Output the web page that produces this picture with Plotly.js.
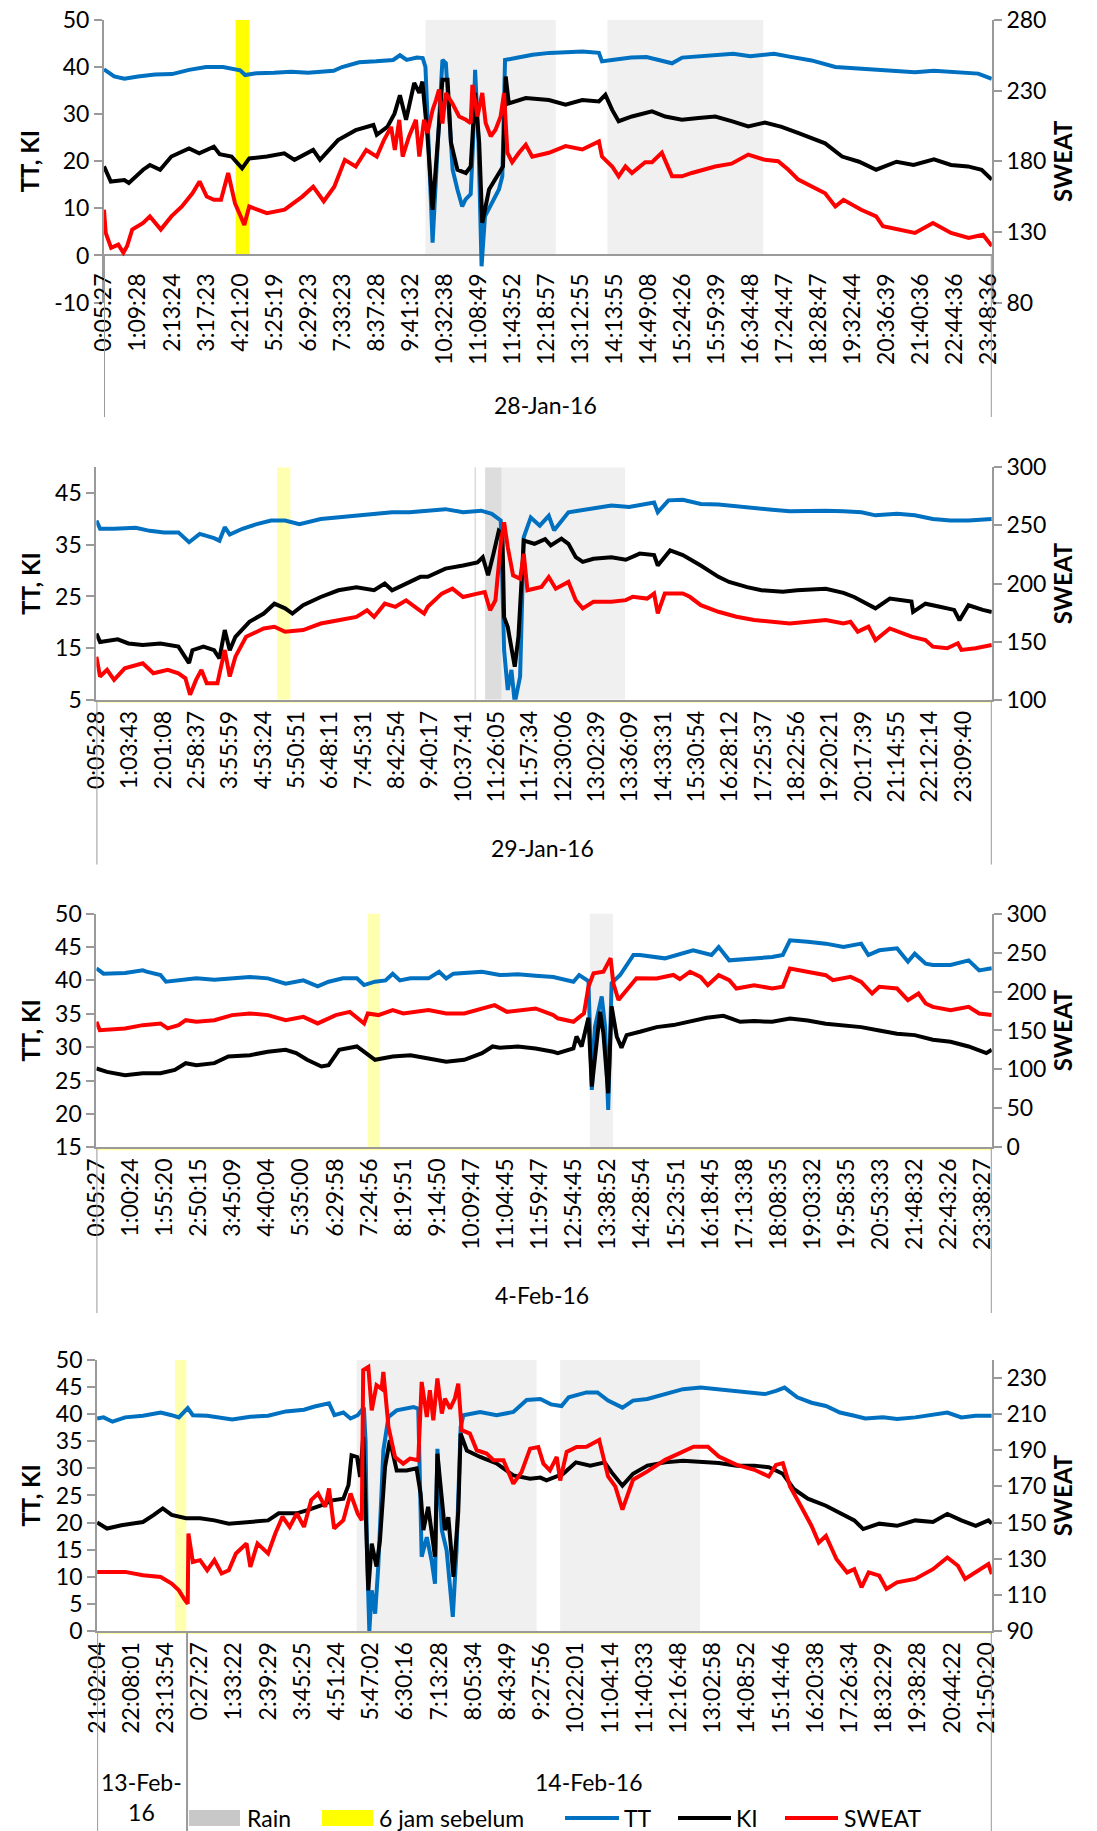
<!DOCTYPE html>
<html><head><meta charset="utf-8">
<script src="https://cdn.plot.ly/plotly-3.0.1.min.js"></script>
<style>body{margin:0;background:#fff}#chart{width:1097px;height:1831px}</style>
</head><body><div id="chart"></div>
<script>
// ---------- DATA (x = position in tick-label units, value) ----------
const labels1 = ['0:05:27','1:09:28','2:13:24','3:17:23','4:21:20','5:25:19','6:29:23','7:33:23','8:37:28','9:41:32','10:32:38','11:08:49','11:43:52','12:18:57','13:12:55','14:13:55','14:49:08','15:24:26','15:59:39','16:34:48','17:24:47','18:28:47','19:32:44','20:36:39','21:40:36','22:44:36','23:48:36'];
const labels2 = ['0:05:28','1:03:43','2:01:08','2:58:37','3:55:59','4:53:24','5:50:51','6:48:11','7:45:31','8:42:54','9:40:17','10:37:41','11:26:05','11:57:34','12:30:06','13:02:39','13:36:09','14:33:31','15:30:54','16:28:12','17:25:37','18:22:56','19:20:21','20:17:39','21:14:55','22:12:14','23:09:40'];
const labels3 = ['0:05:27','1:00:24','1:55:20','2:50:15','3:45:09','4:40:04','5:35:00','6:29:58','7:24:56','8:19:51','9:14:50','10:09:47','11:04:45','11:59:47','12:54:45','13:38:52','14:28:54','15:23:51','16:18:45','17:13:38','18:08:35','19:03:32','19:58:35','20:53:33','21:48:32','22:43:26','23:38:27'];
const labels4 = ['21:02:04','22:08:01','23:13:54','0:27:27','1:33:22','2:39:29','3:45:25','4:51:24','5:47:02','6:30:16','7:13:28','8:05:34','8:43:49','9:27:56','10:22:01','11:04:14','11:40:33','12:16:48','13:02:58','14:08:52','15:14:46','16:20:38','17:26:34','18:32:29','19:38:28','20:44:22','21:50:20'];
const dates1 = ['28-Jan-16'];
const dates2 = ['29-Jan-16'];
const dates3 = ['4-Feb-16'];
const dates4 = ['13-Feb-<br>16','14-Feb-16'];

const tt1 = [[0,39.5],[0.3,38.0],[0.6,37.5],[1.0,38.0],[1.5,38.4],[2.0,38.5],[2.5,39.4],[3.0,40.0],[3.5,40.0],[4.0,39.3],[4.15,38.3],[4.5,38.7],[5.0,38.8],[5.5,39.0],[6.0,38.8],[6.5,39.0],[6.75,39.2],[7.0,40.0],[7.5,41.0],[8.0,41.2],[8.5,41.5],[8.7,42.5],[8.9,41.5],[9.2,42.0],[9.37,41.9],[9.45,40.0],[9.66,2.7],[9.8,22],[9.95,41.5],[10.05,40.8],[10.15,28.8],[10.25,18.2],[10.39,14],[10.53,10.4],[10.63,11.9],[10.78,13],[10.85,24],[10.91,39.4],[11.01,24],[11.1,-2.3],[11.2,8.3],[11.42,11.2],[11.61,14],[11.71,16.8],[11.79,41.5],[12.1,41.9],[12.6,42.6],[13.1,43.0],[14.06,43.3],[14.55,43.0],[14.64,41.2],[14.93,41.5],[15.5,42.0],[15.95,42.1],[16.3,41.4],[16.7,40.8],[17.0,42.0],[17.5,42.2],[18.0,42.5],[18.5,42.8],[19.0,42.3],[19.7,42.8],[20.15,42.2],[20.8,41.4],[21.5,40.0],[22.26,39.6],[22.9,39.3],[23.84,38.9],[24.4,39.2],[25.0,38.9],[25.7,38.6],[26.1,37.5]];
const ki1 = [[0,18.9],[0.2,15.7],[0.6,16.0],[0.73,15.4],[1.15,18.2],[1.35,19.2],[1.65,18.2],[1.98,21],[2.5,22.7],[2.8,21.7],[3.23,23.1],[3.4,21.5],[3.75,21],[4.06,18.5],[4.27,20.6],[4.79,21],[5.3,21.7],[5.6,20.3],[6.15,22.4],[6.35,20.3],[6.88,24.5],[7.4,26.6],[7.92,27.7],[8.02,25.6],[8.33,27.3],[8.54,30.1],[8.7,34],[8.88,28.8],[9.12,36.6],[9.27,34.5],[9.36,36.9],[9.51,25.3],[9.66,9.7],[9.8,23.9],[9.95,37.3],[10.1,37.3],[10.2,24],[10.39,18.2],[10.64,17.5],[10.78,18.9],[10.91,34.5],[11.03,24],[11.12,6.9],[11.32,14],[11.61,17.5],[11.73,18.9],[11.81,38],[11.9,32.3],[12.4,33.4],[13.08,33],[13.57,32],[14.06,33],[14.55,32.7],[14.74,34.1],[14.94,30.9],[15.13,28.5],[15.52,29.5],[16.11,30.6],[16.5,29.5],[16.99,28.8],[17.48,29.2],[17.97,29.5],[18.45,28.5],[18.94,27.4],[19.43,28.2],[19.92,27.3],[20.4,26],[20.7,25.2],[21.2,23.8],[21.7,21],[22.2,19.9],[22.7,18.2],[23.3,19.9],[23.8,19.2],[24.4,20.4],[24.9,19.2],[25.4,18.9],[25.8,18.2],[26.1,16.1]];
const sweat1 = [[0,145.7],[0.05,129.3],[0.21,118.7],[0.42,121],[0.57,115.3],[0.68,120],[0.83,131.7],[1.15,136.3],[1.35,141],[1.67,131.7],[1.98,141],[2.29,148],[2.6,157.3],[2.81,165.7],[3.02,155],[3.23,152.7],[3.44,152.7],[3.65,171.7],[3.85,150.3],[4.125,135],[4.27,148],[4.79,143.3],[5.31,145.7],[5.83,155],[6.15,162],[6.46,151.7],[6.77,162],[7.08,181],[7.4,176.3],[7.71,188],[8.02,183.3],[8.23,195],[8.44,204.3],[8.55,188],[8.68,209.3],[8.78,183.3],[8.97,197.7],[9.17,209.3],[9.27,183.3],[9.41,209.3],[9.51,200],[9.66,216.3],[9.76,223.3],[9.85,230.7],[9.95,206.7],[10.05,228.3],[10.24,221],[10.44,211.7],[10.64,209.3],[10.78,207],[10.83,234],[10.98,211.7],[11.12,228.3],[11.22,207],[11.37,197.7],[11.51,202.3],[11.66,211.7],[11.76,228.3],[11.86,186],[12.0,179.3],[12.2,186],[12.4,191.7],[12.59,183.3],[13.08,186],[13.57,190.7],[14.06,188.3],[14.55,194],[14.64,183.3],[14.94,176.3],[15.13,169.3],[15.33,176.3],[15.52,171.7],[15.91,179.3],[16.11,179.3],[16.4,186],[16.7,169.3],[16.99,169.3],[17.28,171.7],[17.97,176.3],[18.45,178.3],[18.94,184.7],[19.43,181],[19.82,180],[20.12,174],[20.41,167],[20.8,162],[21.2,157.3],[21.5,148],[21.74,152.7],[22.26,145.7],[22.7,141],[22.9,134],[23.32,131.7],[23.84,129.3],[24.37,136.3],[24.9,129.3],[25.42,125.7],[25.84,128],[26.1,120]];

const tt2 = [[0,39.7],[0.11,38.1],[0.53,38.1],[1.18,38.3],[1.6,37.7],[2.03,37.4],[2.46,37.4],[2.78,35.5],[3.1,37.1],[3.53,36.3],[3.69,35.8],[3.85,38.4],[4.0,37.0],[4.38,38.1],[4.81,39],[5.24,39.7],[5.66,39.7],[6.09,39],[6.73,40],[7.26,40.3],[7.8,40.6],[8.33,41],[8.87,41.3],[9.4,41.3],[9.94,41.6],[10.47,41.9],[11.0,41.3],[11.54,41.6],[11.86,41],[12.13,39.7],[12.23,14.6],[12.34,6.9],[12.45,10.8],[12.55,4.4],[12.71,9.5],[12.82,36.5],[13.03,40.3],[13.3,38.7],[13.57,40.6],[13.73,37.8],[14.16,41.3],[14.91,42],[15.45,42.6],[15.98,42.3],[16.41,42.9],[16.73,43.2],[16.84,41.3],[17.16,43.6],[17.59,43.7],[18.13,42.9],[18.66,42.8],[19.2,42.4],[19.73,42.1],[20.27,41.8],[20.8,41.5],[21.34,41.6],[21.88,41.6],[22.41,41.5],[22.95,41.3],[23.37,40.7],[24.02,41],[24.55,40.7],[25.09,40],[25.62,39.7],[26.16,39.7],[26.86,40]];
const ki2 = [[0,17.8],[0.11,16.2],[0.64,16.7],[0.96,15.9],[1.39,15.6],[1.92,15.9],[2.46,15.3],[2.78,12.1],[2.88,14.6],[3.21,15.3],[3.53,14.6],[3.69,13],[3.85,18.5],[4.0,14.6],[4.17,17.2],[4.59,20.1],[5.02,21.7],[5.34,23.6],[5.66,22.7],[5.88,21.7],[6.2,23.3],[6.73,24.9],[7.26,26.2],[7.8,26.8],[8.33,26.2],[8.65,27.5],[8.87,26.2],[9.4,27.8],[9.72,28.8],[9.94,28.8],[10.47,30.4],[11.0,31],[11.43,31.6],[11.59,32.6],[11.75,29.1],[11.91,33.2],[12.07,37.7],[12.18,37.1],[12.23,21],[12.34,19.1],[12.45,14.6],[12.55,11.4],[12.66,17.2],[12.76,27.5],[12.82,35.8],[13.14,35.2],[13.46,36.1],[13.63,34.9],[13.95,36.2],[14.16,35.2],[14.38,32.6],[14.59,31.7],[14.91,32.3],[15.45,32.6],[15.88,32.1],[16.3,33.3],[16.73,33],[16.84,31],[17.21,33.9],[17.59,33],[18.13,31],[18.66,28.8],[18.98,27.8],[19.52,26.8],[19.95,26.2],[20.59,25.9],[21.02,26.2],[21.88,26.5],[22.41,25.7],[22.73,24.9],[23.37,22.7],[23.8,24.6],[24.45,24],[24.5,22],[24.87,23.6],[25.3,23],[25.73,22.4],[25.89,20.4],[26.16,23.3],[26.59,22.4],[26.86,22]];
const sweat2 = [[0,137],[0.11,120],[0.32,125.7],[0.53,117.1],[0.85,127.1],[1.39,131.4],[1.71,122.8],[2.14,125.7],[2.46,122.8],[2.67,118.5],[2.81,104.3],[2.99,117.1],[3.15,125.7],[3.31,114.3],[3.63,114.3],[3.85,142.8],[4.0,120],[4.17,137.1],[4.49,154.2],[4.81,158.5],[5.02,161.3],[5.34,162.8],[5.66,158.5],[6.2,160],[6.73,165.6],[7.26,168.5],[7.8,171.3],[8.12,177],[8.33,171.3],[8.65,182.7],[8.97,180],[9.29,185.6],[9.83,174.2],[9.94,180],[10.36,191.3],[10.68,195.6],[11.0,188.4],[11.43,191.3],[11.65,192.7],[11.81,177],[11.97,185.6],[12.13,234],[12.23,252.6],[12.34,231.2],[12.5,207],[12.71,204.1],[12.82,225.5],[12.93,194.2],[13.35,197],[13.57,205.6],[13.78,195.6],[14.16,201.4],[14.38,185.7],[14.59,178.6],[14.91,184.3],[15.45,184.3],[15.88,185.7],[16.09,188.6],[16.52,187.1],[16.73,191.4],[16.84,174.3],[17.05,191.4],[17.59,191.4],[17.8,188.6],[18.13,181.4],[18.66,175.7],[19.2,171.4],[19.73,168.6],[20.27,167.1],[20.8,165.7],[21.34,167.1],[21.88,168.6],[22.41,165.7],[22.62,167.1],[22.84,158.6],[23.16,162.9],[23.37,151.4],[23.8,161.4],[24.45,154.3],[24.87,151.4],[25.09,145.7],[25.52,144.3],[25.84,148.6],[25.95,142.9],[26.37,144.3],[26.86,147.1]];

const tt3 = [[0,41.8],[0.21,41],[0.84,41.1],[1.36,41.5],[1.47,41.3],[1.88,40.8],[2.04,39.8],[2.41,40],[2.93,40.3],[3.46,40.1],[3.98,40.3],[4.5,40.5],[5.03,40.3],[5.55,39.5],[6.07,40],[6.49,39.1],[6.81,39.8],[7.23,40.3],[7.64,40.3],[7.85,39.3],[8.17,39.8],[8.48,40],[8.69,41],[8.9,40],[9.21,40.3],[9.74,40.3],[10.05,41.3],[10.26,40.3],[10.47,41],[10.79,41.1],[11.31,41.3],[11.83,40.8],[12.36,40.9],[12.88,40.7],[13.4,40.5],[13.99,39.8],[14.16,40.8],[14.43,39.9],[14.53,23.6],[14.62,33],[14.82,37.6],[14.92,33],[15.01,20.6],[15.11,39.6],[15.36,40.8],[15.75,43.8],[15.94,43.8],[16.67,43.3],[17.2,44],[17.5,44.5],[18.04,43.8],[18.25,45],[18.56,43],[19.29,43.3],[19.82,43.5],[20.13,43.8],[20.34,46],[20.86,45.8],[21.39,45.5],[21.91,45],[22.43,45.5],[22.64,43.8],[22.96,44.5],[23.48,44.8],[23.8,42.8],[24.0,44],[24.32,42.5],[24.53,42.3],[25.05,42.3],[25.58,43],[25.89,41.5],[26.26,41.8]];
const ki3 = [[0,26.8],[0.31,26.3],[0.84,25.8],[1.36,26.1],[1.88,26.1],[2.3,26.6],[2.62,27.6],[2.93,27.3],[3.46,27.6],[3.87,28.6],[4.5,28.8],[5.03,29.3],[5.55,29.6],[5.86,29.1],[6.18,28.1],[6.6,27.1],[6.81,27.3],[7.12,29.6],[7.64,30.1],[7.96,28.8],[8.17,28.1],[8.69,28.6],[9.21,28.8],[9.74,28.3],[10.26,27.8],[10.79,28.1],[11.31,29.1],[11.62,30.1],[11.83,29.9],[12.36,30.1],[12.88,29.8],[13.4,29.3],[13.53,29.1],[13.99,29.8],[14.08,31.6],[14.23,30.1],[14.43,34.4],[14.53,24.1],[14.67,30.3],[14.77,35.3],[14.87,32],[15.01,23.1],[15.11,36.1],[15.26,31.6],[15.4,29.9],[15.55,31.8],[15.94,32.3],[16.43,33],[16.92,33.3],[17.41,33.9],[17.9,34.4],[18.39,34.7],[18.88,33.8],[19.29,33.9],[19.82,33.8],[20.34,34.3],[20.86,34],[21.39,33.5],[21.91,33.3],[22.43,33],[22.96,32.5],[23.48,32],[24.0,31.8],[24.53,31.1],[25.05,30.8],[25.58,30.1],[26.1,29.1],[26.26,29.6]];
const sweat3 = [[0,161.1],[0.1,150.4],[0.84,152.6],[1.36,156.8],[1.88,159],[2.09,152.6],[2.41,156.8],[2.62,163.2],[2.93,161.1],[3.46,163.2],[3.98,169.7],[4.5,171.8],[5.03,169.7],[5.55,163.2],[6.07,167.5],[6.49,159],[7.02,169.7],[7.43,173.9],[7.85,159],[7.96,171.8],[8.27,169.7],[8.69,176.1],[9.0,171.8],[9.74,176.1],[10.26,171.8],[10.79,171.8],[11.68,182.5],[12.04,173.9],[12.88,178.2],[13.4,169.7],[13.53,165.6],[13.99,161.2],[14.3,172],[14.43,206.2],[14.58,223.4],[14.87,225.4],[15.08,242.6],[15.16,210.5],[15.31,189.1],[15.55,201.9],[15.84,216.9],[16.43,216.7],[16.92,221.2],[17.11,216],[17.41,225.4],[17.72,218.8],[17.93,208.1],[18.25,220.9],[18.56,214.5],[18.77,203.8],[19.29,208.1],[19.82,203.8],[20.13,206],[20.34,229.5],[20.86,225.2],[21.39,220.9],[21.6,214.5],[22.12,218.8],[22.43,212.4],[22.75,197.4],[22.96,206],[23.48,203.8],[23.8,188.9],[24.11,197.4],[24.32,184.6],[24.53,180.3],[25.05,176.1],[25.58,180.3],[25.89,171.8],[26.26,169.7]];

const tt4 = [[0,39.2],[0.19,39.4],[0.45,38.6],[0.82,39.4],[1.34,39.7],[1.86,40.3],[2.18,39.8],[2.39,39.4],[2.65,41.1],[2.8,39.8],[3.22,39.7],[3.64,39.2],[3.95,39],[4.48,39.5],[5.0,39.7],[5.52,40.5],[6.05,40.8],[6.36,41.4],[6.78,42],[6.94,39.8],[7.2,40.3],[7.41,39.2],[7.62,39.8],[7.8,41.2],[7.85,35],[7.89,14.9],[7.96,0],[8.03,7.5],[8.13,3.2],[8.22,11.8],[8.37,33.3],[8.52,39.5],[8.76,40.7],[9.25,41.3],[9.39,41],[9.49,13.7],[9.64,17.3],[9.78,13],[9.88,8.7],[9.95,33.6],[10.08,18.6],[10.22,14.9],[10.4,2.6],[10.51,14.9],[10.63,37.6],[10.71,39.8],[11.2,40.4],[11.68,39.8],[12.17,40.4],[12.56,42.6],[12.96,42.8],[13.27,41.8],[13.58,41.5],[13.79,43.1],[14.31,44],[14.63,44],[14.94,42.5],[15.36,41.2],[15.67,42.5],[16.09,42.8],[16.61,43.7],[17.13,44.6],[17.65,44.9],[18.18,44.6],[18.7,44.3],[19.22,44],[19.53,43.7],[19.85,44.3],[20.1,44.9],[20.47,43.1],[20.89,42.1],[21.31,41.5],[21.72,40.3],[22.14,39.7],[22.46,39.2],[22.98,39.4],[23.39,39.1],[23.92,39.4],[24.44,40],[24.86,40.3],[25.27,39.4],[25.69,39.7],[26.16,39.7]];
const ki4 = [[0,20],[0.29,18.9],[0.71,19.5],[1.34,20.1],[1.66,21.4],[1.92,22.6],[2.18,21.4],[2.6,20.8],[3.01,20.8],[3.43,20.4],[3.85,19.8],[4.48,20.1],[5.0,20.4],[5.31,21.7],[5.84,21.7],[6.15,22.3],[6.57,23.2],[6.88,24.1],[7.2,24.4],[7.35,26.9],[7.44,32.4],[7.6,32.1],[7.69,28.4],[7.78,35.8],[7.93,7.5],[8.03,16.1],[8.17,11.9],[8.27,16.7],[8.42,30.3],[8.56,35.2],[8.76,29.6],[9.05,29.6],[9.34,30],[9.46,25.3],[9.54,18.6],[9.68,22.9],[9.88,13.7],[9.95,32.7],[10.08,24.1],[10.17,18.6],[10.27,21],[10.42,10],[10.56,22],[10.63,36.4],[10.81,33.3],[11.2,32.1],[11.68,30.9],[12.17,28.7],[12.66,28.1],[12.96,28.3],[13.14,27.8],[13.63,29],[14.0,31.1],[14.42,30.5],[14.84,31.1],[15.04,29.3],[15.36,26.8],[15.67,29],[16.09,30.5],[16.61,31.1],[17.13,31.4],[17.65,31.2],[18.18,31],[18.7,30.5],[19.22,30.5],[19.64,30.2],[20.05,29],[20.37,26.2],[20.78,24.4],[21.31,23.1],[21.83,21.3],[22.14,20.4],[22.4,18.8],[22.87,19.8],[23.39,19.4],[23.92,20.4],[24.44,20.1],[24.86,21.6],[25.27,20.4],[25.69,19.4],[26.06,20.4],[26.16,19.8]];
const sweat4 = [[0,122.7],[0.82,122.7],[1.34,120.9],[1.86,119.9],[2.18,116.2],[2.39,112.5],[2.54,107.9],[2.65,105.1],[2.67,143.9],[2.8,128.2],[3.01,129.2],[3.22,123.6],[3.43,129.2],[3.64,121.8],[3.85,123.6],[4.06,132.9],[4.37,138.4],[4.48,125.5],[4.69,138.4],[5.0,132.9],[5.21,143.9],[5.42,153.2],[5.63,147.6],[5.84,155],[6.05,147.6],[6.26,162.4],[6.46,166.1],[6.67,158.7],[6.78,168.9],[6.93,146.7],[7.2,151.3],[7.41,166.1],[7.62,155],[7.74,151.3],[7.78,234.3],[7.93,236.1],[8.03,212.1],[8.17,226],[8.32,224],[8.37,233.4],[8.52,202.9],[8.71,186.3],[8.95,182.6],[9.15,185.4],[9.39,184.5],[9.49,227.8],[9.64,208.4],[9.73,223.2],[9.83,206.6],[9.95,229.7],[10.08,210.3],[10.17,218.6],[10.32,213.1],[10.46,218.6],[10.56,226.9],[10.66,201.1],[10.9,199.2],[11.1,190],[11.39,188.2],[11.59,184.5],[11.88,184.5],[12.17,171.5],[12.41,177.9],[12.66,190.9],[12.9,191.8],[13.05,182.6],[13.24,178.9],[13.44,186.3],[13.54,173.3],[13.73,189.1],[14.02,191.8],[14.31,192],[14.68,195.7],[14.94,175.5],[15.15,170],[15.36,157.2],[15.67,173.7],[16.09,178.3],[16.61,184.7],[17.13,189.3],[17.44,192],[17.86,192],[18.18,186.5],[18.7,181.9],[19.22,179.2],[19.64,175.5],[19.85,181.9],[20.05,182.9],[20.26,170],[20.58,159],[20.89,148.1],[21.1,138.9],[21.31,142.6],[21.62,129.7],[21.93,122.4],[22.14,124.2],[22.35,114.2],[22.56,122.4],[22.87,120.6],[23.08,113.3],[23.39,116.9],[23.92,118.8],[24.44,124.2],[24.86,130.7],[25.17,126.1],[25.38,118.8],[25.69,122.4],[26.06,127],[26.16,121.5]];

// rain periods and "6 jam sebelum" periods (tick-label units)
const rain1 = [[9.45,13.28],[14.8,19.38]];
const rain2 = [[11.34,11.39],[11.66,12.16],[12.16,15.86]];
const rain3 = [[14.47,15.15]];
const rain4 = [[7.59,12.85],[13.54,17.63]];
const yellow1 = [[3.87,4.27]];
const yellow2 = [[5.42,5.82]];
const yellow3 = [[7.96,8.32]];
const yellow4 = [[2.28,2.61]];
const legendNames = ['Rain','6 jam sebelum','TT','KI','SWEAT'];

// ---------- STYLE / LAYOUT ----------
const W = 1097, H = 1831;
const FONT = 'Lato, "Open Sans", sans-serif';
const AX = '#9a9a9a';
const C_TT = '#0070C0', C_KI = '#000000', C_SW = '#FF0000';
const px = v => v / W, py = v => 1 - v / H;

const panels = [
  {labels: labels1, tt: tt1, ki: ki1, sw: sweat1, rain: rain1, yel: yellow1, yelColor: '#FFFF00', rainDark: [],
   left: 104, right: 991.8, top: 19.9, bottom: 302.6, axisPx: 255.9, xr: [0, 26.1],
   yr: [-10, 50], yt: [-10, 0, 10, 20, 30, 40, 50], base: 0, y2r: [80, 280], y2t: [80, 130, 180, 230, 280],
   sepBottom: 417, seps: [0, 26.1], dates: dates1, datePos: [[545.6, 405]], zeroAxis: true},
  {labels: labels2, tt: tt2, ki: ki2, sw: sweat2, rain: rain2, yel: yellow2, yelColor: '#FFFFB0', rainDark: [0, 1],
   left: 96.4, right: 991.8, top: 467.3, bottom: 699.8, axisPx: 699.8, xr: [0, 26.86],
   yr: [5, 50], yt: [5, 15, 25, 35, 45], base: 5, y2r: [100, 300], y2t: [100, 150, 200, 250, 300],
   sepBottom: 864.5, seps: [0, 26.86], dates: dates2, datePos: [[542, 848]]},
  {labels: labels3, tt: tt3, ki: ki3, sw: sweat3, rain: rain3, yel: yellow3, yelColor: '#FFFFB0', rainDark: [],
   left: 96.4, right: 991.8, top: 913.6, bottom: 1147.3, axisPx: 1147.3, xr: [0, 26.26],
   yr: [15, 50], yt: [15, 20, 25, 30, 35, 40, 45, 50], base: 15, y2r: [0, 300], y2t: [0, 50, 100, 150, 200, 250, 300],
   sepBottom: 1313, seps: [0, 26.26], dates: dates3, datePos: [[542, 1294.5]]},
  {labels: labels4, tt: tt4, ki: ki4, sw: sweat4, rain: rain4, yel: yellow4, yelColor: '#FFFFB0', rainDark: [],
   left: 97.1, right: 991.8, top: 1359.9, bottom: 1631, axisPx: 1631, xr: [0, 26.16],
   yr: [0, 50], yt: [0, 5, 10, 15, 20, 25, 30, 35, 40, 45, 50], base: 0, y2r: [90, 240], y2t: [90, 110, 130, 150, 170, 190, 210, 230],
   sepBottom: 1831, seps: [0, 2.63, 26.16], dates: dates4, datePos: [[141.4, 1797], [588.8, 1781.7]]}
];

const traces = [];
const layout = {
  width: W, height: H, margin: {l: 0, r: 0, t: 0, b: 0},
  paper_bgcolor: '#ffffff', plot_bgcolor: 'rgba(0,0,0,0)',
  font: {family: FONT, size: 23, color: '#000'},
  showlegend: false, shapes: [], annotations: []
};
const tickFont = {family: FONT, size: 23, color: '#000'};

panels.forEach((p, k) => {
  const n = k + 1;
  const xa = 'x' + n, yl = 'y' + (2 * n - 1), yr = 'y' + (2 * n);
  const xKey = n === 1 ? 'xaxis' : 'xaxis' + n;
  const ylKey = 'yaxis' + (2 * n - 1 === 1 ? '' : 2 * n - 1);
  const yrKey = 'yaxis' + (2 * n);
  layout[xKey] = {
    domain: [px(p.left), px(p.right)], range: p.xr, anchor: yl,
    tickmode: 'array', tickvals: p.labels.map((_, i) => i), ticktext: p.labels,
    tickangle: -90, ticks: '', showgrid: false, zeroline: false,
    showline: !p.zeroAxis, showticklabels: !p.zeroAxis, linecolor: AX, linewidth: 2,
    tickfont: tickFont, fixedrange: true
  };
  layout[ylKey] = {
    domain: [py(p.bottom), py(p.top)], range: p.yr, tickmode: 'array', tickvals: p.yt, ticktext: p.yt.map(String),
    anchor: xa, showline: true, linecolor: AX, linewidth: 2, ticks: 'outside', ticklen: 8,
    tickcolor: AX, tickwidth: 2, showgrid: false,
    zeroline: !!p.zeroAxis, zerolinecolor: AX, zerolinewidth: 2,
    tickfont: tickFont,
    title: {text: 'TT, KI', font: {family: FONT, size: 24, weight: 'bold', color: '#000'}, standoff: 8},
    fixedrange: true
  };
  layout[yrKey] = {
    overlaying: yl, side: 'right', anchor: xa, range: p.y2r, tickmode: 'array', tickvals: p.y2t, ticktext: p.y2t.map(String),
    showline: true, linecolor: AX, linewidth: 2, ticks: 'outside', ticklen: 8,
    tickcolor: AX, tickwidth: 2, showgrid: false, zeroline: false,
    tickfont: tickFont,
    title: {text: 'SWEAT', font: {family: FONT, size: 24, weight: 'bold', color: '#000'}, standoff: 10},
    fixedrange: true
  };

  // rain + yellow bands
  p.rain.forEach((r, j) => {
    layout.shapes.push({type: 'rect', xref: xa, yref: yl, x0: r[0], x1: r[1], y0: p.base, y1: 50,
      fillcolor: p.rainDark.includes(j) ? '#dddddd' : '#f0f0f0', line: {width: 0}, layer: 'below'});
  });
  p.yel.forEach(r => {
    layout.shapes.push({type: 'rect', xref: xa, yref: yl, x0: r[0], x1: r[1], y0: p.base, y1: 50,
      fillcolor: p.yelColor, line: {width: 0}, layer: 'below'});
  });
  if (!p.zeroAxis) {
    layout.shapes.push({type: 'line', xref: 'paper', yref: 'paper', x0: px(p.left), x1: px(p.right),
      y0: py(p.axisPx + 2), y1: py(p.axisPx + 2), line: {color: '#ffffa0', width: 2}, layer: 'below'});
  }
  // category group separators
  p.seps.forEach(s => {
    layout.shapes.push({type: 'line', xref: xa, yref: 'paper', x0: s, x1: s,
      y0: py(p.axisPx), y1: py(p.sepBottom), line: {color: AX, width: 2}});
  });
  p.dates.forEach((d, j) => {
    layout.annotations.push({text: d, xref: 'paper', yref: 'paper', x: px(p.datePos[j][0]), y: py(p.datePos[j][1]),
      xanchor: 'center', yanchor: 'middle', showarrow: false, font: {family: FONT, size: 23, color: '#000'}});
  });

  const mk = (arr, name, color, yaxis) => ({
    type: 'scatter', mode: 'lines', name: name, x: arr.map(d => d[0]), y: arr.map(d => d[1]),
    xaxis: xa, yaxis: yaxis, line: {color: color, width: 4}, hoverinfo: 'skip', showlegend: false
  });
  traces.push(mk(p.tt, 'TT', C_TT, yl));
  traces.push(mk(p.ki, 'KI', C_KI, yl));
  traces.push(mk(p.sw, 'SWEAT', C_SW, yr));
});

// Panel 1: time labels hang from the y = 0 line (axis crosses at 0)
const p1 = panels[0];
layout.xaxis5 = {
  domain: [px(p1.left), px(p1.right)], range: p1.xr, anchor: 'y9',
  tickmode: 'array', tickvals: p1.labels.map((_, i) => i), ticktext: p1.labels,
  tickangle: -90, ticks: '', showgrid: false, zeroline: false, showline: false,
  tickfont: tickFont, fixedrange: true
};
layout.yaxis9 = {domain: [py(p1.axisPx + 12), py(p1.top)], range: [0, 1], anchor: 'x5', visible: false, fixedrange: true};
traces.push({type: 'scatter', mode: 'lines', x: [], y: [], xaxis: 'x5', yaxis: 'y9', showlegend: false, hoverinfo: 'skip'});

// legend (bottom)
const LY = 1818;
layout.shapes.push({type: 'rect', xref: 'paper', yref: 'paper', x0: px(189), x1: px(240), y0: py(1826), y1: py(1810), fillcolor: '#c8c8c8', line: {width: 0}});
layout.shapes.push({type: 'rect', xref: 'paper', yref: 'paper', x0: px(322), x1: px(373), y0: py(1826), y1: py(1810), fillcolor: '#FFFF00', line: {width: 0}});
[[565, 619, C_TT], [678, 731, C_KI], [785, 838, C_SW]].forEach(l => {
  layout.shapes.push({type: 'line', xref: 'paper', yref: 'paper', x0: px(l[0]), x1: px(l[1]), y0: py(LY), y1: py(LY), line: {color: l[2], width: 4}});
});
[[245, legendNames[0]], [377, legendNames[1]], [622, legendNames[2]], [734, legendNames[3]], [842, legendNames[4]]].forEach(t => {
  layout.annotations.push({text: t[1], xref: 'paper', yref: 'paper', x: px(t[0]), y: py(LY), xanchor: 'left', yanchor: 'middle',
    showarrow: false, font: {family: FONT, size: 23, color: '#000'}});
});

Plotly.newPlot('chart', traces, layout, {staticPlot: true, displayModeBar: false});
</script>
</body></html>
